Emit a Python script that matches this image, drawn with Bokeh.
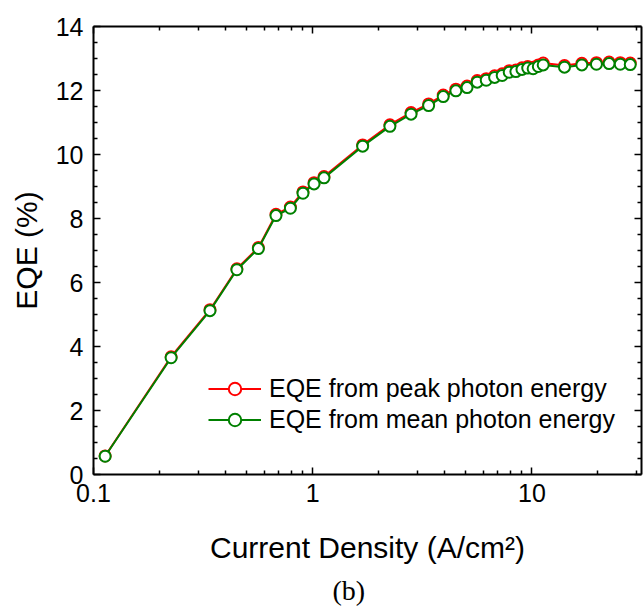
from bokeh.plotting import figure
from bokeh.models import (LogAxis, LinearAxis, Legend, LegendItem, Title, FixedTicker,
                          Range1d, CustomJSTickFormatter)
from bokeh.embed import file_html
from bokeh.resources import INLINE

# Current density (A/cm^2)
current_density = [0.113, 0.226, 0.34, 0.451, 0.565, 0.68, 0.791, 0.903, 1.014, 1.126,
                   1.69, 2.25, 2.81, 3.38, 3.94, 4.5, 5.06, 5.63, 6.19, 6.76, 7.32,
                   7.88, 8.45, 9.01, 9.57, 10.13, 10.7, 11.26, 14.08, 16.9, 19.7,
                   22.5, 25.3, 28.1]
# EQE (%) from peak photon energy
eqe_peak = [0.58, 3.68, 5.15, 6.43, 7.09, 8.13, 8.36, 8.83, 9.12, 9.31, 10.30, 10.93,
            11.31, 11.58, 11.86, 12.04, 12.14, 12.31, 12.37, 12.46, 12.52, 12.62,
            12.64, 12.71, 12.75, 12.73, 12.80, 12.86, 12.78, 12.85, 12.87, 12.89,
            12.87, 12.86]
# EQE (%) from mean photon energy
eqe_mean = [0.57, 3.65, 5.12, 6.40, 7.06, 8.09, 8.32, 8.79, 9.08, 9.27, 10.26, 10.88,
            11.26, 11.53, 11.81, 11.99, 12.09, 12.26, 12.32, 12.41, 12.47, 12.57,
            12.59, 12.66, 12.70, 12.68, 12.75, 12.80, 12.73, 12.80, 12.82, 12.84,
            12.82, 12.81]

series_labels = ["EQE from peak photon energy", "EQE from mean photon energy"]
x_major = [0.1, 1, 10]
x_minor = [0.2, 0.3, 0.4, 0.5, 0.6, 0.7, 0.8, 0.9, 2, 3, 4, 5, 6, 7, 8, 9, 20, 30]
y_major = [0, 2, 4, 6, 8, 10, 12, 14]
y_minor = [0.5, 1, 1.5, 2.5, 3, 3.5, 4.5, 5, 5.5, 6.5, 7, 7.5, 8.5, 9, 9.5, 10.5, 11,
           11.5, 12.5, 13, 13.5]

FONT = "Liberation Sans"

p = figure(x_axis_type="log", x_range=Range1d(0.1, 10 ** 1.5), y_range=Range1d(0, 14),
           frame_width=548, frame_height=448, output_backend="svg",
           toolbar_location=None, min_border_left=93, min_border_top=26,
           min_border_right=2, min_border_bottom=0)
p.xgrid.visible = False
p.ygrid.visible = False
p.outline_line_color = None

xt = FixedTicker(ticks=x_major, minor_ticks=x_minor)
yt = FixedTicker(ticks=y_major, minor_ticks=y_minor)
fmt = CustomJSTickFormatter(code="return tick >= 1 ? tick.toFixed(0) : tick.toFixed(1);")

def style(ax, labels=True):
    ax.axis_line_width = 2
    ax.major_tick_in = 7
    ax.major_tick_out = 0
    ax.minor_tick_in = 4
    ax.minor_tick_out = 0
    ax.major_tick_line_width = 1.5
    ax.minor_tick_line_width = 1.5
    if labels:
        ax.major_label_text_font = FONT
        ax.major_label_text_font_size = "25px"
        ax.major_label_text_color = "black"
        ax.axis_label_text_font = FONT
        ax.axis_label_text_font_size = "30px"
        ax.axis_label_text_font_style = "normal"
        ax.axis_label_text_color = "black"
    else:
        ax.major_label_text_font_size = "1px"
        ax.major_label_text_color = None
        ax.major_label_standoff = 0

xa = p.xaxis[0]
xa.ticker = xt
xa.formatter = fmt
xa.axis_label = "Current Density (A/cm²)"
style(xa)
xa.major_label_standoff = 9
xa.axis_label_standoff = 26

ya = p.yaxis[0]
ya.ticker = yt
ya.axis_label = "EQE (%)"
style(ya)
ya.major_label_standoff = 10
ya.axis_label_standoff = 10

top = LogAxis(ticker=xt)
style(top, labels=False)
p.add_layout(top, "above")
right = LinearAxis(ticker=yt)
style(right, labels=False)
p.add_layout(right, "right")

r_line = p.line(current_density, eqe_peak, line_color="#ff0000", line_width=2)
r_pts = p.scatter(current_density, eqe_peak, size=11, marker="circle", fill_color="white",
                  line_color="#ff0000", line_width=2)
g_line = p.line(current_density, eqe_mean, line_color="#008000", line_width=2)
g_pts = p.scatter(current_density, eqe_mean, size=11, marker="circle", fill_color="white",
                  line_color="#008000", line_width=2)

legend = Legend(items=[LegendItem(label=series_labels[0], renderers=[r_line, r_pts]),
                       LegendItem(label=series_labels[1], renderers=[g_line, g_pts])],
                location=(115, 39), padding=0, margin=0, spacing=0,
                glyph_width=53, glyph_height=31, label_height=31, label_standoff=8,
                label_text_font=FONT, label_text_font_size="25px",
                label_text_color="black",
                background_fill_alpha=0, border_line_alpha=0)
p.add_layout(legend)

p.add_layout(Title(text="(b)", align="left", text_font="Liberation Serif",
                   text_font_size="28px", text_font_style="normal", text_color="black",
                   standoff=12, offset=239), "below")

open("out.html", "w").write(file_html(p, INLINE))
